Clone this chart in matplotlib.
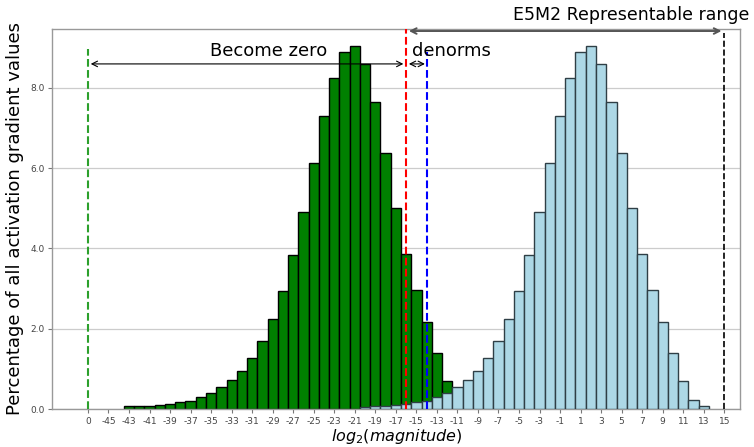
import matplotlib
matplotlib.use("Agg")
import matplotlib.pyplot as plt
import numpy as np

# Data
green_pos = list(range(-43, -11))
green_vals = [0.067, 0.08, 0.08, 0.10, 0.13, 0.17, 0.21, 0.30, 0.39, 0.54,
              0.72, 0.95, 1.28, 1.69, 2.24, 2.93, 3.83, 4.92, 6.12, 7.29,
              8.24, 8.90, 9.05, 8.60, 7.66, 6.37, 5.00, 3.86, 2.96, 2.17,
              1.39, 0.69]
blue_pos = list(range(-20, 14))
blue_vals = [0.045, 0.07, 0.08, 0.10, 0.13, 0.17, 0.21, 0.30, 0.39, 0.54,
             0.72, 0.95, 1.28, 1.69, 2.24, 2.93, 3.83, 4.92, 6.12, 7.29,
             8.24, 8.90, 9.05, 8.60, 7.66, 6.37, 5.00, 3.86, 2.96, 2.17,
             1.39, 0.69, 0.23, 0.07]
xtick_pos = list(range(-47, 16, 2))
xtick_labels = ["0"] + [str(v) for v in range(-45, 16, 2)]
ytick_pos = [0, 2, 4, 6, 8]
ytick_labels = ["0.0", "2.0", "4.0", "6.0", "8.0"]

fig = plt.figure(figsize=(7.54, 4.47), dpi=100)
ax = fig.add_axes([0.069, 0.0850, 0.912, 0.8510])

ax.bar(green_pos, green_vals, width=1.0, color="green", edgecolor="black", linewidth=1.0, zorder=2)
ax.bar(blue_pos, blue_vals, width=1.0, color="lightblue", edgecolor="#2f3f46", linewidth=1.0, zorder=3)

ax.set_xlim(-50.5, 16.5)
ax.set_ylim(0, 9.48)
ax.set_xticks(xtick_pos)
ax.set_xticklabels(xtick_labels, fontsize=6.5, color="#444444")
ax.set_yticks(ytick_pos)
ax.set_yticklabels(ytick_labels, fontsize=6.5, color="#444444")
ax.tick_params(axis="both", colors="#777777", labelcolor="#444444", length=3, width=0.8, pad=2.5)
ax.yaxis.grid(True, color="#cccccc", linewidth=0.9, zorder=0)
ax.set_axisbelow(True)
for s in ax.spines.values():
    s.set_color("#999999")
    s.set_linewidth(1.0)

# vertical lines
ax.plot([-47, -47], [0, 8.98], color="#2ca02c", linestyle="--", linewidth=1.5, zorder=4)
ax.axvline(-16, color="red", linestyle="--", linewidth=1.5, zorder=4)
ax.plot([-14, -14], [0, 8.9], color="blue", linestyle="--", linewidth=1.5, zorder=4)
ax.plot([15, 15], [0, 9.38], color="black", linestyle="--", linewidth=1.2, zorder=4)

# arrows
ax.annotate("", xy=(-47, 8.6), xytext=(-16, 8.6),
            arrowprops=dict(arrowstyle="<->", color="black", lw=0.8), zorder=5)
ax.annotate("", xy=(-16, 8.6), xytext=(-13.9, 8.6),
            arrowprops=dict(arrowstyle="<->", color="black", lw=0.8), zorder=5)
ax.annotate("", xy=(-16, 9.42), xytext=(15, 9.42),
            arrowprops=dict(arrowstyle="<->", color="#555555", lw=1.4), zorder=5)

ax.text(-29.4, 8.93, "Become zero", fontsize=13, ha="center", va="center", zorder=6)
ax.text(-15.4, 8.93, "denorms", fontsize=13, ha="left", va="center", zorder=6)
ax.text(-5.6, 9.81, "E5M2 Representable range", fontsize=12.5, ha="left", va="center",
        zorder=6, clip_on=False)

ax.set_ylabel("Percentage of all activation gradient values", fontsize=13)
fig.text(0.5265, 0.003, "$log_2(magnitude)$", fontsize=11.5, ha="center", va="bottom")

fig.savefig("out.png", dpi=100)
